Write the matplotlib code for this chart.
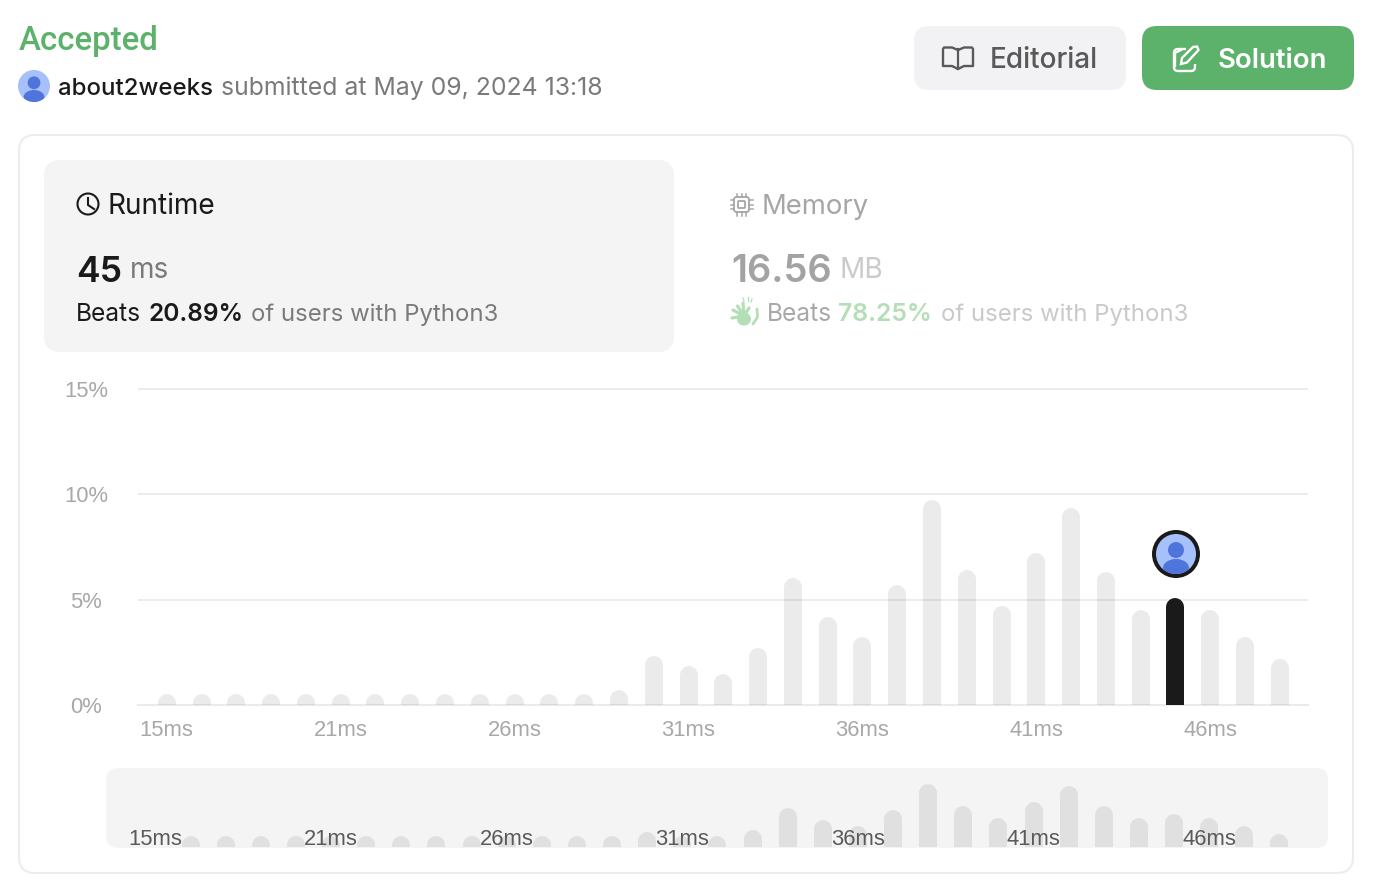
import matplotlib
matplotlib.use("Agg")
import matplotlib.pyplot as plt
from matplotlib.patches import FancyBboxPatch, Circle, Ellipse, Polygon, Rectangle
import numpy as np

# ---------- data ----------
bar_index = list(range(33))
runtime_pct = [0.5, 0.5, 0.5, 0.5, 0.5, 0.5, 0.5, 0.5, 0.5, 0.5, 0.5, 0.5, 0.5, 0.7,
               2.3, 1.85, 1.45, 2.7, 6.0, 4.15, 3.2, 5.7, 9.7, 6.4, 4.7, 7.2, 9.35,
               6.3, 4.5, 5.05, 4.5, 3.2, 2.2]
overview_index = list(range(1, 33))
overview_pct = [1.7, 1.7, 1.7, 1.7, 1.7, 1.7, 1.7, 1.7, 1.7, 1.7, 1.7, 1.7, 1.7,
                2.3, 1.7, 1.7, 2.6, 5.9, 4.1, 3.2, 5.6, 9.5, 6.2, 4.4, 6.8, 9.2,
                6.2, 4.4, 5.0, 4.4, 3.2, 2.0]
highlight_position = 29
tick_positions = [0, 5, 10, 15, 20, 25, 30]
tick_labels = ["15ms", "21ms", "26ms", "31ms", "36ms", "41ms", "46ms"]
y_ticks = [0, 5, 10, 15]
y_labels = ["0%", "5%", "10%", "15%"]

W, H = 1384, 892
plt.rcParams["font.family"] = ["Inter", "DejaVu Sans"]
fig = plt.figure(figsize=(W / 100, H / 100), dpi=100, facecolor="white")

def px_axes(x0, x1, y_top, y_bottom, **kw):
    return fig.add_axes([x0 / W, 1 - y_bottom / H, (x1 - x0) / W, (y_bottom - y_top) / H], **kw)

def pt(px):
    return px * 0.72

# ---------- page overlay in pixel units ----------
bg = fig.add_axes([0, 0, 1, 1], zorder=0)
bg.set_xlim(0, W)
bg.set_ylim(H, 0)
bg.axis("off")

def rbox(x0, y0, x1, y1, r, fc="none", ec="none", lw=0, z=1):
    p = FancyBboxPatch((x0 + r, y0 + r), x1 - x0 - 2 * r, y1 - y0 - 2 * r,
                       boxstyle=f"round,pad={r}", fc=fc, ec=ec, lw=lw, zorder=z)
    bg.add_patch(p)
    return p

def txt(x, y, s, px, color, weight="normal", ha="left", family=None):
    t = bg.text(x, y, s, fontsize=pt(px), color=color, fontweight=weight, ha=ha, va="baseline", zorder=5)
    if family:
        t.set_family(family)
    return t

GREEN = "#5cb26b"
DARK = "#1a1a1a"
GREY = "#7a7a7a"

def avatar(cx, cy, s, ring=False):
    if ring:
        bg.add_patch(Circle((cx, cy), 24 * s, fc=DARK, ec="none", zorder=3))
    face = Circle((cx, cy), 20 * s, fc="#a5c0fa", ec="none", zorder=4)
    bg.add_patch(face)
    bg.add_patch(Circle((cx, cy - 4 * s), 8 * s, fc="#4f75dc", ec="none", zorder=5))
    body = Ellipse((cx, cy + 14 * s), 26 * s, 18 * s, fc="#4f75dc", ec="none", zorder=5)
    bg.add_patch(body)
    body.set_clip_path(face)

# header
txt(19, 50, "Accepted", 33, GREEN, "medium", family=["Roboto", "DejaVu Sans"])
avatar(34, 86, 0.8)
txt(58, 95, "about2weeks", 24, DARK, "medium")
txt(221, 95, "submitted at May 09, 2024 13:18", 24.8, GREY)

# buttons
rbox(914, 26, 1126, 90, 15, fc="#f2f2f4")
rbox(1142, 26, 1354, 90, 15, fc=GREEN)
txt(990, 68, "Editorial", 28, "#595959", "medium")
txt(1218, 68, "Solution", 27.5, "white", "semibold")
# book icon
bc = "#595959"
bg.plot([958, 958], [49, 69], color=bc, lw=1.6, zorder=5)
bg.plot([958, 952, 944, 943, 943, 952, 958, 964, 973, 973, 972, 964, 958],
        [50, 47.5, 47.5, 49, 66, 66, 69, 66, 66, 49, 47.5, 47.5, 50], color=bc, lw=1.7, zorder=5)
# pencil icon
rbox(1174, 49, 1195, 71, 4, ec="white", lw=1.7, fc="none", z=5)
bg.add_patch(Rectangle((1186, 44), 14, 20, fc=GREEN, ec="none", zorder=5))
bg.add_patch(Polygon([(1181, 64), (1182, 58), (1193, 47), (1197, 46.5), (1198.5, 50), (1187, 62.5)],
                     closed=True, fc=GREEN, ec="white", lw=1.7, zorder=6))
bg.plot([1174.5, 1174.5], [54, 66], color="white", lw=1.7, zorder=5)
bg.plot([1174.5, 1181], [53, 50], color="white", lw=1.7, zorder=5)

# card and panel
rbox(19, 135, 1353, 873, 16, fc="white", ec="#ececec", lw=1.5)
rbox(44, 160, 674, 352, 16, fc="#f4f4f4", z=2)

# runtime panel
bg.add_patch(Circle((88, 204), 10.5, fc="none", ec=DARK, lw=1.5, zorder=5))
bg.plot([88, 88, 94], [198, 205, 209], color=DARK, lw=1.5, zorder=5)
txt(108, 214, "Runtime", 28, DARK)
txt(76, 282, "45", 35.5, DARK, "semibold")
txt(130, 278, "ms", 28, GREY)
txt(76, 321, "Beats", 24.5, DARK)
txt(149, 321, "20.89%", 24.5, DARK, "semibold")
txt(251, 321, "of users with Python3", 23.9, GREY)

# memory panel
chip = "#a6a6a6"
rbox(734, 197, 749, 212, 2.5, ec=chip, lw=1.3, z=5)
rbox(738, 201, 745, 208, 1, ec=chip, lw=1.3, z=5)
for d in (-4.5, 0, 4.5):
    bg.plot([741.5 + d, 741.5 + d], [193.5, 197], color=chip, lw=1.1, zorder=5)
    bg.plot([741.5 + d, 741.5 + d], [212, 215.5], color=chip, lw=1.1, zorder=5)
    bg.plot([730.5, 734], [204.5 + d, 204.5 + d], color=chip, lw=1.1, zorder=5)
    bg.plot([749, 752.5], [204.5 + d, 204.5 + d], color=chip, lw=1.1, zorder=5)
txt(762, 214, "Memory", 27.5, "#a6a6a6")
txt(731, 282, "16.56", 38, "#a3a3a3", "semibold")
txt(840, 278, "MB", 28, "#cbcbcb")
clap = "#b3deb6"
bg.add_patch(Ellipse((744, 319), 14, 13, fc=clap, ec="none", zorder=5))
for (x0, y0) in [(732, 318), (733, 310), (737.5, 306), (743, 303), (749, 308)]:
    bg.plot([x0, 744], [y0, 316], color=clap, lw=2.3, solid_capstyle="round", zorder=5)
bg.plot([757, 757.5, 753], [309, 317, 324], color=clap, lw=2.0, solid_capstyle="round", zorder=5)
for (x0, y0, x1, y1) in [(743, 298, 744, 301), (747.5, 297, 747.5, 300.5), (752, 299, 751, 302)]:
    bg.plot([x0, x1], [y0, y1], color=clap, lw=0.9, zorder=5)
txt(767, 321, "Beats", 24.5, "#a8a8a8")
txt(838, 321, "78.25%", 24.7, "#b3deb6", "semibold")
txt(941, 321, "of users with Python3", 23.9, "#c9c9c9")

# overview panel
rbox(106, 768, 1328, 848, 12, fc="#f4f4f4", z=2)

# user marker above the highlighted bar
avatar(1176, 554, 1.0, ring=True)

# ---------- main chart ----------
BAR_PX = 18
BAR_LW = BAR_PX * 0.72
AX_FONT = ["Liberation Sans", "DejaVu Sans"]
ax = px_axes(138, 1308, 387, 705, zorder=2)
ax.patch.set_alpha(0)
step = 34.78
ax.set_xlim((138 - 166.8) / step, (1308 - 166.8) / step)
ax.set_ylim(0, 318 / 21.1)
cap = (BAR_PX / 2) / 21.1
colors = [(0.10, 0.10, 0.10, 1.0) if i == highlight_position else (0, 0, 0, 0.08) for i in bar_index]
ax.vlines(bar_index, 0, np.array(runtime_pct) - cap, colors=colors, linewidths=BAR_LW, capstyle="round", zorder=3)
ax.set_yticks(y_ticks, y_labels, fontsize=pt(22), color="#a8a8a8", family=AX_FONT, ha="center")
ax.set_xticks(tick_positions, tick_labels, fontsize=pt(22), color="#a8a8a8", family=AX_FONT)
ax.tick_params(axis="y", length=0, pad=37.5)
ax.tick_params(axis="x", length=0, pad=10.5)
ax.grid(axis="y", color="#ebebeb", lw=1.3, zorder=1)
ax.set_axisbelow(True)
for name in ("top", "left", "right"):
    ax.spines[name].set_visible(False)
ax.spines["bottom"].set_color("#ebebeb")
ax.spines["bottom"].set_linewidth(1.5)

# ---------- overview chart ----------
ov = px_axes(106, 1328, 768, 847, zorder=3)
ov.patch.set_alpha(0)
ov_step = 35.12
ov.set_xlim((106 - 155.5) / ov_step, (1328 - 155.5) / ov_step)
ov.set_ylim(0, 79 / 6.6)
ov_cap = (BAR_PX / 2) / 6.6
ov.vlines(overview_index, 0, np.array(overview_pct) - ov_cap, colors=[(0, 0, 0, 0.08)],
          linewidths=BAR_LW, capstyle="round", zorder=1)
ov.set_yticks([])
ov.set_xticks(tick_positions, tick_labels, fontsize=pt(22), color="#5a5a5a", family=AX_FONT)
ov.tick_params(axis="x", length=0, pad=-12.8)
for s in ov.spines.values():
    s.set_visible(False)

fig.savefig("out.png", dpi=100, facecolor="white")
